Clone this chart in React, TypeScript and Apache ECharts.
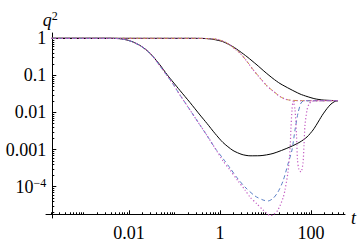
import React, { useEffect, useRef } from 'react';
import * as echarts from 'echarts';

const FONT = "'Liberation Serif', 'Times New Roman', serif";

// axis extents, as powers of ten
const X_MIN = -3.824;
const X_MAX = 2.747;
const Y_MIN = -4.844;
const Y_MAX = 0.143;

const xMajor = [-2, 0, 2];
const xTickLabels = ['0.01', '1', '100'];
const yMajor = [0, -1, -2, -3, -4];
const yTickLabels = ['1', '0.1', '0.01', '0.001', '10^-4'];

// upper solid (black)
const tA = [0.0002, 0.219, 0.468, 0.702, 1.164, 1.93, 2.75, 3.92, 6.5, 9.75, 14.6, 20.8, 34.5, 57.3, 81.7, 122, 184, 392];
const qA = [1, 1, 0.988, 0.94, 0.81, 0.594, 0.441, 0.319, 0.191, 0.1236, 0.0825, 0.0605, 0.043, 0.0315, 0.027, 0.0234, 0.0217, 0.0208];

// lower solid (black)
const tB = [0.0002, 0.00382, 0.00634, 0.00903, 0.01225, 0.01745, 0.0249, 0.0337, 0.048, 0.0684, 0.0927, 0.132, 0.219, 0.363, 0.518, 0.776, 1.164, 1.93, 3.05, 4.56, 7.57, 14.6, 34.5, 57.3, 81.7, 111, 135, 175, 225, 275, 337, 392];
const qB = [1, 1, 0.975, 0.9, 0.795, 0.64, 0.469, 0.323, 0.191, 0.1057, 0.0664, 0.0392, 0.0186, 0.00857, 0.00506, 0.00272, 0.00155, 0.000946, 0.000738, 0.00068, 0.000685, 0.000785, 0.001175, 0.0016, 0.00219, 0.00338, 0.0049, 0.0083, 0.0128, 0.0169, 0.02, 0.0208];

// upper dashed (orange)
const tCu = [0.0002, 0.219, 0.468, 0.859, 1.288, 1.66, 2.14, 2.75, 3.92, 5.31, 7.57, 10.8, 14.6, 20.8, 26.8, 34.5, 57.3, 392];
const qCu = [1, 1, 0.988, 0.94, 0.795, 0.66, 0.515, 0.402, 0.237, 0.144, 0.0851, 0.0518, 0.038, 0.027, 0.0231, 0.0215, 0.0209, 0.0208];

// lower dashed (blue)
const tCl = [0.0002, 0.00382, 0.00634, 0.00903, 0.01225, 0.01745, 0.0249, 0.0337, 0.048, 0.0684, 0.0927, 0.132, 0.219, 0.363, 0.518, 0.776, 1.164, 1.66, 2.49, 3.54, 5.88, 8.81, 11.35, 14.6, 18.8, 24.3, 31.2, 38.2, 44.5, 51.8, 60.3, 70.2, 392];
const qCl = [1, 1, 0.975, 0.9, 0.795, 0.64, 0.469, 0.32, 0.179, 0.0994, 0.0586, 0.0296, 0.01167, 0.0046, 0.0024, 0.0011, 0.000575, 0.000319, 0.000161, 9.8e-5, 5.61e-5, 4.38e-5, 4.12e-5, 4.81e-5, 7.2e-5, 1.43e-4, 4.09e-4, 9.76e-4, 0.00338, 0.0097, 0.018, 0.0207, 0.0208];

// upper dotted (magenta)
const tDu = [0.0002, 0.219, 0.468, 0.859, 1.288, 1.66, 2.14, 2.75, 3.92, 5.31, 7.57, 10.8, 14.6, 20.8, 26.8, 34.5, 40.2, 44.5, 48.0, 50.5, 54.5, 60.3, 66.7, 70.2, 73.8, 81.7, 90.4, 105, 392];
const qDu = [1, 1, 0.988, 0.94, 0.795, 0.66, 0.515, 0.402, 0.237, 0.144, 0.0851, 0.0518, 0.038, 0.027, 0.0231, 0.0215, 0.0204, 0.01167, 0.00248, 0.000524, 0.000282, 0.000249, 0.000435, 0.00133, 0.0046, 0.01167, 0.0169, 0.0202, 0.0208];

// lower dotted (magenta)
const tDl = [0.0002, 0.00382, 0.00634, 0.00903, 0.01225, 0.01745, 0.0249, 0.0337, 0.048, 0.0684, 0.0927, 0.132, 0.219, 0.363, 0.518, 0.776, 1.164, 1.66, 2.49, 3.54, 4.56, 6.5, 8.81, 10.8, 12.56, 14.6, 18.8, 24.3, 26.8, 31.2, 34.5, 36.3, 38.2, 40.2, 46.8, 392];
const qDl = [1, 1, 0.975, 0.9, 0.795, 0.64, 0.469, 0.32, 0.179, 0.0994, 0.0586, 0.0296, 0.01167, 0.0046, 0.0024, 0.0011, 0.000493, 0.000282, 0.000143, 8.15e-5, 5.27e-5, 3.42e-5, 2.36e-5, 1.9e-5, 1.67e-5, 1.73e-5, 2.36e-5, 4.96e-5, 8.15e-5, 2.49e-4, 9.76e-4, 0.00382, 0.01167, 0.0186, 0.0207, 0.0208];

const toLog = (t: number[], q: number[]) => t.map((v, i) => [Math.log10(v), Math.log10(q[i])]);

function minorTicks(lo: number, hi: number, majors: number[]) {
  const out: number[] = [];
  for (let n = Math.floor(lo); n <= Math.ceil(hi); n++) {
    for (let k = 1; k <= 9; k++) {
      const e = n + Math.log10(k);
      if (e >= lo && e <= hi && !majors.some((m) => Math.abs(m - e) < 1e-9)) out.push(e);
    }
  }
  return out;
}

const BLACK = '#000000';
const ORANGE = '#cf9a3e';
const BLUE = '#5a7fc6';
const MAGENTA = '#c25ac2';

export default function App() {
  const ref = useRef<HTMLDivElement>(null);
  useEffect(() => {
    document.body.style.margin = '0';
    const chart = echarts.init(ref.current!, undefined, { renderer: 'svg' });
    const xFmt = (v: number) => {
      const i = xMajor.findIndex((m) => Math.abs(m - v) < 1e-6);
      return i >= 0 ? xTickLabels[i] : '';
    };
    const yFmt = (v: number) => {
      const i = yMajor.findIndex((m) => Math.abs(m - v) < 1e-6);
      if (i < 0) return '';
      const s = yTickLabels[i];
      if (s.includes('^')) {
        const [b, e] = s.split('^');
        return `{b|${b}}{s|${e.replace('-', '\u2212')}}`;
      }
      return `{b|${s}}`;
    };
    const rich = {
      b: { fontFamily: FONT, fontSize: 18, color: '#000', lineHeight: 20 },
      s: { fontFamily: FONT, fontSize: 12, color: '#000', verticalAlign: 'top', lineHeight: 12 },
    };
    const lineBase = { type: 'line', xAxisIndex: 0, yAxisIndex: 0, symbol: 'none', showSymbol: false, smooth: 0.25, clip: true };
    chart.setOption({
      animation: false,
      grid: { left: 46, right: 15, top: 33, bottom: 28, containLabel: false, outerBoundsMode: 'none' },
      xAxis: [
        {
          type: 'value', min: X_MIN, max: X_MAX, position: 'bottom', offset: -3.7,
          axisLine: { show: true, onZero: false, lineStyle: { color: '#000', width: 1 } },
          axisTick: { show: true, inside: true, length: 4, customValues: xMajor, lineStyle: { color: '#000' } },
          axisLabel: { show: true, customValues: xMajor, formatter: xFmt, margin: 10, color: '#000', fontFamily: FONT, fontSize: 18 },
          splitLine: { show: false },
          name: 't', nameLocation: 'end', nameGap: 6,
          nameTextStyle: { fontFamily: FONT, fontStyle: 'italic', fontSize: 18, color: '#000', verticalAlign: 'top', lineHeight: 8 },
        },
        {
          type: 'value', min: X_MIN, max: X_MAX, position: 'bottom', offset: -3.7,
          axisLine: { show: false, onZero: false },
          axisTick: { show: true, inside: true, length: 2, customValues: minorTicks(X_MIN, X_MAX, xMajor), lineStyle: { color: '#000' } },
          axisLabel: { show: false },
          splitLine: { show: false },
        },
      ],
      yAxis: [
        {
          type: 'value', min: Y_MIN, max: Y_MAX, position: 'left', offset: -6.3,
          axisLine: { show: true, onZero: false, lineStyle: { color: '#000', width: 1 } },
          axisTick: { show: true, inside: true, length: 4, customValues: yMajor, lineStyle: { color: '#000' } },
          axisLabel: { show: true, customValues: yMajor, formatter: yFmt, margin: 6, rich },
          splitLine: { show: false },
          name: '{q|q}{s|2}', nameLocation: 'end', nameGap: 3,
          nameTextStyle: {
            padding: [0, 4, 0, 0],
            rich: {
              q: { fontFamily: FONT, fontStyle: 'italic', fontSize: 18, color: '#000', lineHeight: 20 },
              s: { fontFamily: FONT, fontSize: 12, color: '#000', verticalAlign: 'top', lineHeight: 12 },
            },
          },
        },
        {
          type: 'value', min: Y_MIN, max: Y_MAX, position: 'left', offset: -6.3,
          axisLine: { show: false, onZero: false },
          axisTick: { show: true, inside: true, length: 2, customValues: minorTicks(Y_MIN, Y_MAX, yMajor), lineStyle: { color: '#000' } },
          axisLabel: { show: false },
          splitLine: { show: false },
        },
      ],
      series: [
        { ...lineBase, name: 'A', data: toLog(tA, qA), lineStyle: { color: BLACK, width: 1 } },
        { ...lineBase, name: 'B', data: toLog(tB, qB), lineStyle: { color: BLACK, width: 1 } },
        { ...lineBase, name: 'Cu', data: toLog(tCu, qCu), lineStyle: { color: ORANGE, width: 1, type: [4, 3] } },
        { ...lineBase, name: 'Cl', data: toLog(tCl, qCl), lineStyle: { color: BLUE, width: 1, type: [4, 3] } },
        { ...lineBase, name: 'Du', data: toLog(tDu, qDu), lineStyle: { color: MAGENTA, width: 1.2, type: [1.2, 2.2] } },
        { ...lineBase, name: 'Dl', data: toLog(tDl, qDl), lineStyle: { color: MAGENTA, width: 1.2, type: [1.2, 2.2] } },
      ],
    });
    return () => chart.dispose();
  }, []);
  return <div ref={ref} style={{ width: 360, height: 246 }} />;
}
